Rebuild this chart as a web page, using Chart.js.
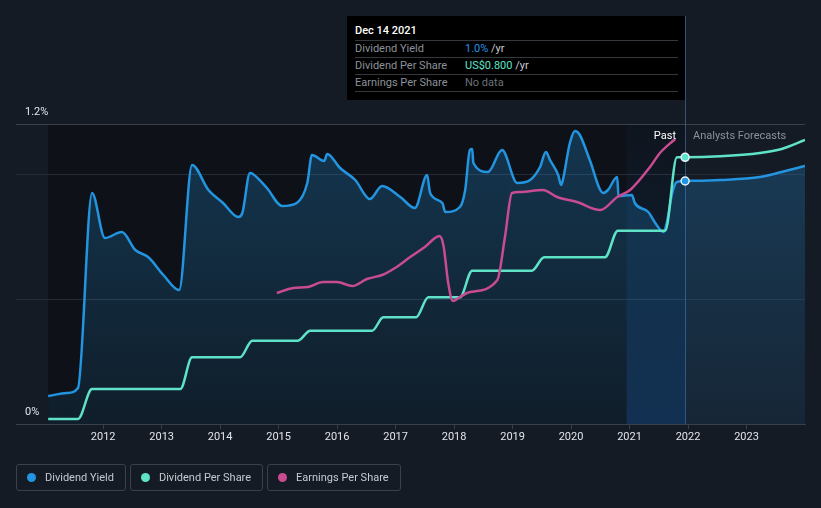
<!DOCTYPE html>
<html>
<head>
<meta charset="utf-8">
<script src="https://cdn.jsdelivr.net/npm/chart.js@4.4.0/dist/chart.umd.min.js"></script>
<style>
  html, body { margin: 0; padding: 0; background: #151b25; }
  body { width: 821px; height: 508px; position: relative; overflow: hidden; font-family: Roboto, "Noto Sans", sans-serif; }
  #wrap { position: absolute; left: 0; top: 0; width: 821px; height: 508px; }
  #tip { position: absolute; left: 347px; top: 16px; width: 338px; height: 84px; background: #000; box-sizing: border-box; padding: 0 7px 0 8px; font-size: 11px; }
  #tip .title { height: 24px; line-height: 30px; color: #fff; font-weight: 500; }
  #tip .row { height: 16px; line-height: 16px; border-top: 1px solid #34373c; display: flex; }
  #tip .row:last-child { border-bottom: 1px solid #34373c; }
  #tip .lab { width: 110px; color: #8c9199; }
  #tip .val { color: #c8ccd2; }
  .era { position: absolute; top: 129px; font-size: 11px; line-height: 14px; }
  #legend { position: absolute; left: 16px; top: 464px; display: flex; gap: 4px; }
  #legend .item { height: 27px; box-sizing: border-box; border: 1px solid #3b414c; border-radius: 3px; padding: 0 11px 0 10px; display: flex; align-items: center; color: #c5c9d0; font-size: 11px; }
  #legend .dot { width: 9px; height: 9px; border-radius: 50%; margin-right: 9px; }
</style>
</head>
<body>
<div id="wrap"><canvas id="chart" width="821" height="508"></canvas></div>

<div class="era" style="right:145px;color:#ffffff;">Past</div>
<div class="era" style="left:693px;color:#8c9199;">Analysts Forecasts</div>

<div id="tip">
  <div class="title">Dec 14 2021</div>
  <div class="row"><span class="lab">Dividend Yield</span><span class="val"><span style="color:#2394e0">1.0%</span> /yr</span></div>
  <div class="row"><span class="lab">Dividend Per Share</span><span class="val"><span style="color:#5ee3c8">US$0.800</span> /yr</span></div>
  <div class="row"><span class="lab">Earnings Per Share</span><span class="val" style="color:#6c7179">No data</span></div>
</div>

<div id="legend">
  <div class="item"><span class="dot" style="background:#2394e0"></span>Dividend Yield</div>
  <div class="item"><span class="dot" style="background:#5ee3c8"></span>Dividend Per Share</div>
  <div class="item"><span class="dot" style="background:#c94b91"></span>Earnings Per Share</div>
</div>

<script>
// Dividend yield (%), by decimal year
const yieldYears = [2011.06, 2011.38, 2011.57, 2011.81, 2012.03, 2012.32, 2012.55, 2012.77, 2013.03, 2013.3,
  2013.52, 2013.8, 2014.05, 2014.31, 2014.38, 2014.51, 2014.56, 2014.8, 2015.06, 2015.31,
  2015.49, 2015.57, 2015.78, 2015.83, 2016.05, 2016.31, 2016.56, 2016.77, 2017.08, 2017.33,
  2017.54, 2017.59, 2017.8, 2017.85, 2018.1, 2018.19, 2018.27, 2018.31, 2018.33, 2018.58,
  2018.82, 2019.08, 2019.3, 2019.47, 2019.57, 2019.64, 2019.78, 2019.83, 2019.86, 2019.98,
  2020.07, 2020.15, 2020.32, 2020.55, 2020.63, 2020.79, 2020.81, 2021.04, 2021.09, 2021.32,
  2021.44, 2021.58, 2021.64, 2021.73, 2021.81, 2021.95, 2022.55, 2023.23, 2023.6, 2024.0];
const yieldValues = [0.112, 0.124, 0.144, 0.924, 0.744, 0.768, 0.696, 0.668, 0.596, 0.536,
  1.036, 0.936, 0.884, 0.828, 0.844, 1.004, 1.0, 0.944, 0.872, 0.884,
  0.964, 1.076, 1.052, 1.08, 1.024, 0.976, 0.9, 0.952, 0.908, 0.864,
  0.996, 0.924, 0.884, 0.848, 0.868, 0.936, 1.096, 1.1, 1.044, 1.008,
  1.096, 0.964, 0.976, 1.028, 1.088, 1.056, 0.996, 0.956, 0.976, 1.124,
  1.172, 1.156, 1.056, 0.924, 0.936, 0.988, 0.912, 0.916, 0.884, 0.848,
  0.804, 0.768, 0.808, 0.924, 0.968, 0.972, 0.976, 0.988, 1.008, 1.032];

// Dividend per share (US$)
const dpsYears = [2011.06, 2011.57, 2011.81, 2013.32, 2013.52, 2014.34, 2014.55, 2015.33, 2015.54, 2016.6,
  2016.79, 2017.35, 2017.56, 2018.1, 2018.31, 2019.33, 2019.54, 2020.58, 2020.8, 2021.61,
  2021.81, 2021.95, 2022.55, 2023.23, 2023.6, 2024.0];
const dpsValues = [0.015, 0.015, 0.105, 0.105, 0.2, 0.2, 0.25, 0.25, 0.28, 0.28,
  0.32, 0.32, 0.38, 0.38, 0.46, 0.46, 0.5, 0.5, 0.58, 0.58,
  0.8, 0.8, 0.803, 0.813, 0.825, 0.852];

// Earnings per share (US$)
const epsYears = [2014.97, 2015.25, 2015.5, 2015.76, 2016.0, 2016.26, 2016.51, 2016.77, 2016.99, 2017.25,
  2017.5, 2017.75, 2017.82, 2017.9, 2017.98, 2018.1, 2018.27, 2018.74, 2018.87, 2018.99,
  2019.13, 2019.52, 2019.76, 2020.1, 2020.5, 2020.79, 2021.01, 2021.35, 2021.52, 2021.78];
const epsValues = [1.31, 1.36, 1.37, 1.42, 1.42, 1.38, 1.45, 1.49, 1.56, 1.67,
  1.77, 1.88, 1.78, 1.41, 1.23, 1.27, 1.32, 1.44, 1.87, 2.31,
  2.32, 2.34, 2.27, 2.22, 2.14, 2.27, 2.34, 2.57, 2.71, 2.85];

const yearTicks = [2012, 2013, 2014, 2015, 2016, 2017, 2018, 2019, 2020, 2021, 2022, 2023];
const yieldTicks = [0, 0.5, 1.0, 1.2];
const yieldTickLabels = { 0: '0%', 1.2: '1.2%' };

const hoverYear = 2021.95;     // Dec 14 2021
const bandStartYear = 2020.95; // one year back

const toPoints = (xs, ys) => xs.map((x, i) => ({ x: x, y: ys[i] }));

// background, past area, highlight band and hover line
const backdrop = {
  id: 'backdrop',
  beforeDraw(chart) {
    const { ctx, chartArea: a, scales: { x } } = chart;
    ctx.save();
    ctx.fillStyle = '#151b25';
    ctx.fillRect(0, 0, chart.width, chart.height);
    const x0 = x.getPixelForValue(yieldYears[0]);
    const x1 = x.getPixelForValue(hoverYear);
    ctx.fillStyle = '#0e1218';
    ctx.fillRect(x0, a.top, x1 - x0, a.bottom - a.top);
    ctx.restore();
  },
  beforeDatasetsDraw(chart) {
    const { ctx, chartArea: a, scales: { x } } = chart;
    const x0 = x.getPixelForValue(bandStartYear);
    const x1 = x.getPixelForValue(hoverYear);
    const g = ctx.createLinearGradient(0, a.top, 0, a.bottom);
    g.addColorStop(0, 'rgba(25,110,220,0.03)');
    g.addColorStop(0.5, 'rgba(25,110,220,0.1)');
    g.addColorStop(1, 'rgba(25,110,220,0.22)');
    ctx.save();
    ctx.fillStyle = g;
    ctx.fillRect(x0, a.top, x1 - x0, a.bottom - a.top);
    ctx.strokeStyle = 'rgba(60,105,160,0.7)';
    ctx.lineWidth = 1;
    ctx.beginPath();
    ctx.moveTo(Math.round(x1) + 0.5, 16);
    ctx.lineTo(Math.round(x1) + 0.5, a.bottom);
    ctx.stroke();
    ctx.restore();
  }
};

const dotAtHover = c => (c.raw && c.raw.x === hoverYear ? 4 : 0);

new Chart(document.getElementById('chart'), {
  type: 'line',
  data: {
    datasets: [
      {
        label: 'Earnings Per Share',
        data: toPoints(epsYears, epsValues),
        yAxisID: 'eps',
        borderColor: '#c94b91',
        borderWidth: 2.5,
        pointRadius: 0,
        cubicInterpolationMode: 'monotone',
        fill: false
      },
      {
        label: 'Dividend Per Share',
        data: toPoints(dpsYears, dpsValues),
        yAxisID: 'dps',
        borderColor: '#5ee3c8',
        borderWidth: 2.5,
        pointRadius: dotAtHover,
        pointBackgroundColor: '#5ee3c8',
        pointBorderColor: '#e4f2fa',
        pointBorderWidth: 1.5,
        cubicInterpolationMode: 'monotone',
        fill: false
      },
      {
        label: 'Dividend Yield',
        data: toPoints(yieldYears, yieldValues),
        yAxisID: 'y',
        borderColor: '#2394e0',
        borderWidth: 2.5,
        pointRadius: dotAtHover,
        pointBackgroundColor: '#2394e0',
        pointBorderColor: '#e4f2fa',
        pointBorderWidth: 1.5,
        cubicInterpolationMode: 'monotone',
        fill: 'origin',
        backgroundColor(c) {
          const a = c.chart.chartArea;
          if (!a) return 'rgba(35,148,224,0.15)';
          const g = c.chart.ctx.createLinearGradient(0, a.top, 0, a.bottom);
          g.addColorStop(0, 'rgba(35,148,224,0.28)');
          g.addColorStop(1, 'rgba(35,148,224,0.09)');
          return g;
        }
      }
    ]
  },
  options: {
    responsive: false,
    animation: false,
    events: [],
    layout: { padding: { left: 16, right: 16, top: 124, bottom: 54 } },
    plugins: { legend: { display: false }, tooltip: { enabled: false } },
    scales: {
      x: {
        type: 'linear',
        min: 2010.51,
        max: 2024.0,
        afterBuildTicks: s => { s.ticks = yearTicks.map(v => ({ value: v })); },
        afterFit: s => { s.height = 30; },
        grid: { drawOnChartArea: false, drawTicks: true, tickLength: 5, color: '#3a4049' },
        border: { display: true, color: '#3a4049' },
        ticks: {
          color: '#e2e5ea',
          font: { family: 'Roboto', size: 11 },
          padding: 2,
          maxRotation: 0,
          callback: v => String(v)
        }
      },
      y: {
        position: 'left',
        min: 0,
        max: 1.2,
        afterBuildTicks: s => { s.ticks = yieldTicks.map(v => ({ value: v })); },
        afterFit: s => { s.width = 0; },
        grid: {
          drawTicks: false,
          color: c => (c.tick.value === 1.2 ? '#3a4049' : c.tick.value === 0 ? 'rgba(0,0,0,0)' : '#262c36')
        },
        border: { display: false },
        ticks: {
          mirror: true,
          padding: 9,
          labelOffset: -12,
          color: '#e2e5ea',
          font: { family: 'Roboto', size: 11 },
          callback: v => yieldTickLabels[v] || ''
        }
      },
      dps: { display: false, min: 0, max: 0.9 },
      eps: { display: false, min: 0, max: 3 }
    }
  },
  plugins: [backdrop]
});
</script>
</body>
</html>
